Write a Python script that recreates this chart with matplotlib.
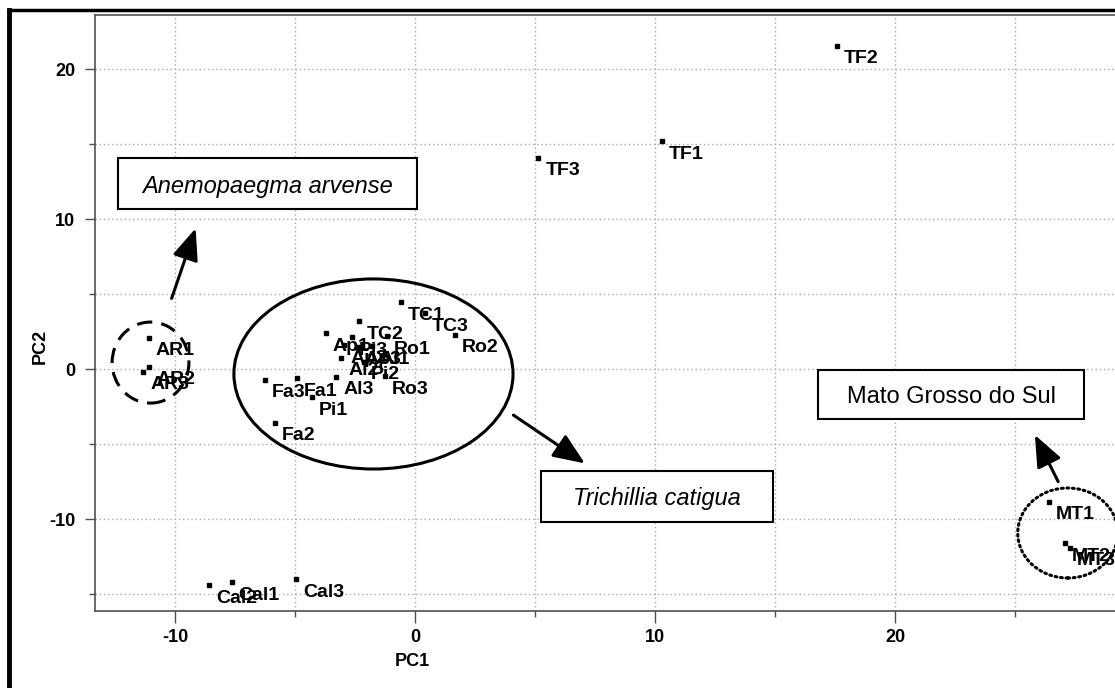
import numpy as np
import matplotlib
matplotlib.use('Agg')
import matplotlib.pyplot as plt
from matplotlib.patches import Ellipse, Rectangle
from matplotlib.lines import Line2D
from matplotlib import font_manager

# PCA scores (PC1, PC2)
labels = ['AR1', 'AR2', 'AR3',
          'TC1', 'TC2', 'TC3',
          'Ro1', 'Ro2', 'Ro3',
          'Ap1', 'Ap2', 'Ap3',
          'Al1', 'Al2', 'Al3',
          'Pi1', 'Pi2', 'Pi3',
          'Fa1', 'Fa2', 'Fa3',
          'Cal1', 'Cal2', 'Cal3',
          'TF1', 'TF2', 'TF3',
          'MT1', 'MT2', 'MT3']
pc1 = [-11.10, -11.07, -11.32,
       -0.60, -2.32, 0.42,
       -1.17, 1.67, -1.25,
       -3.71, -2.96, -2.38,
       -1.79, -3.08, -3.29,
       -4.29, -2.13, -2.63,
       -4.92, -5.83, -6.25,
       -7.64, -8.57, -4.96,
       10.28, 17.57, 5.14,
       26.40, 27.08, 27.30]
pc2 = [2.10, 0.15, -0.18,
       4.45, 3.20, 3.73,
       2.20, 2.27, -0.47,
       2.38, 1.60, 1.47,
       1.53, 0.75, -0.51,
       -1.87, 0.47, 2.13,
       -0.60, -3.58, -0.73,
       -14.22, -14.40, -14.00,
       15.20, 21.55, 14.09,
       -8.85, -11.62, -11.90]

x_major = [-10, 0, 10, 20]
y_major = [-10, 0, 10, 20]

names = [f.name for f in font_manager.fontManager.ttflist]
narrow = 'Liberation Sans Narrow' if 'Liberation Sans Narrow' in names else 'Liberation Sans'
print('narrow font:', narrow)

plt.rcParams['font.family'] = ['Liberation Sans', 'DejaVu Sans']

fig = plt.figure(figsize=(11.15, 6.88), dpi=100)
ax = fig.add_axes([95 / 1115, 77 / 688, 1 - 95 / 1115, (611 - 15) / 688])
ax.set_xlim(-13.333, 29.167)
ax.set_ylim(-16.13, 23.6)

# grid every 5 units, dotted
ax.set_xticks(x_major)
ax.set_yticks(y_major)
ax.set_xticks([-5, 5, 15, 25], minor=True)
ax.set_yticks([-15, -5, 5, 15], minor=True)
ax.grid(True, which='both', color='#a8a8a8', linestyle=(0, (1, 2)), linewidth=1)
ax.set_axisbelow(True)

for s in ['left', 'bottom', 'top']:
    ax.spines[s].set_color('#505050')
    ax.spines[s].set_linewidth(1.2)
ax.spines['right'].set_visible(False)

ax.tick_params(axis='x', which='major', length=8.6, width=1, color='#505050', pad=4)
ax.tick_params(axis='x', which='minor', length=4.3, width=1, color='#505050')
ax.tick_params(axis='y', which='major', length=7.2, width=1, color='#505050', pad=7)
ax.tick_params(axis='y', which='minor', length=4.3, width=1, color='#505050')
ax.set_xticklabels([str(v) for v in x_major], fontsize=13, fontweight='bold', family=narrow)
ax.set_yticklabels([str(v) for v in y_major], fontsize=13, fontweight='bold')

fig.text(412 / 1115, 1 - 662 / 688, 'PC1', fontsize=13, fontweight='bold', ha='center', va='center')
fig.text(40 / 1115, 1 - 346 / 688, 'PC2', fontsize=13, fontweight='bold', ha='center', va='center', rotation=90)

# points + labels
ax.plot(pc1, pc2, 's', color='k', markersize=2.4, linestyle='none', zorder=3)
for lab, x, y in zip(labels, pc1, pc2):
    ax.annotate(lab, (x, y), xytext=(7, -17.5), textcoords='offset pixels',
                ha='left', va='baseline', fontsize=14, fontweight='bold', zorder=4)

# group outlines
ax.add_patch(Ellipse((-11.02, 0.43), 3.2, 5.4, fill=False, lw=2.2, ls=(0, (5, 3)), zorder=2))
ax.add_patch(Ellipse((-1.73, -0.33), 11.63, 12.67, fill=False, lw=2.2, zorder=2))
ax.add_patch(Ellipse((27.2, -10.93), 4.17, 6.0, fill=False, lw=2.2, ls=(0, (0.6, 1.2)), zorder=2,
                     capstyle='round'))

# boxes with group names
boxes = [((-12.36, 10.67), 12.46, 3.38, 'Anemopaegma arvense', 'italic'),
         ((5.24, -10.18), 9.66, 3.38, 'Trichillia catigua', 'italic'),
         ((16.80, -3.35), 11.07, 3.28, 'Mato Grosso do Sul', 'normal')]
for (x0, y0), w, h, txt, style in boxes:
    ax.add_patch(Rectangle((x0, y0), w, h, facecolor='white', edgecolor='k', lw=1.5, zorder=5))
    ax.text(x0 + w / 2, y0 + h / 2, txt, ha='center', va='center_baseline', fontsize=17,
            style=style, zorder=6)

arrows = [((-10.14, 4.71), (-9.14, 9.38)),
          ((4.10, -3.07), (7.08, -6.29)),
          ((26.80, -7.51), (25.83, -4.40))]
for start, tip in arrows:
    ax.annotate('', xy=tip, xytext=start,
                arrowprops=dict(arrowstyle='-|>,head_length=0.97,head_width=0.4',
                                mutation_scale=20, lw=2.2, color='k',
                                shrinkA=0, shrinkB=0), zorder=6)

# outer black frame (cropped on right and bottom)
fig.add_artist(Line2D([9 / 1115, 9 / 1115], [0, 1 - 10 / 688], color='k', lw=3.5,
                      solid_capstyle='projecting'))
fig.add_artist(Line2D([9 / 1115, 1.0], [1 - 10 / 688, 1 - 10 / 688], color='k', lw=2.5,
                      solid_capstyle='projecting'))

fig.savefig('out.png', dpi=100)
